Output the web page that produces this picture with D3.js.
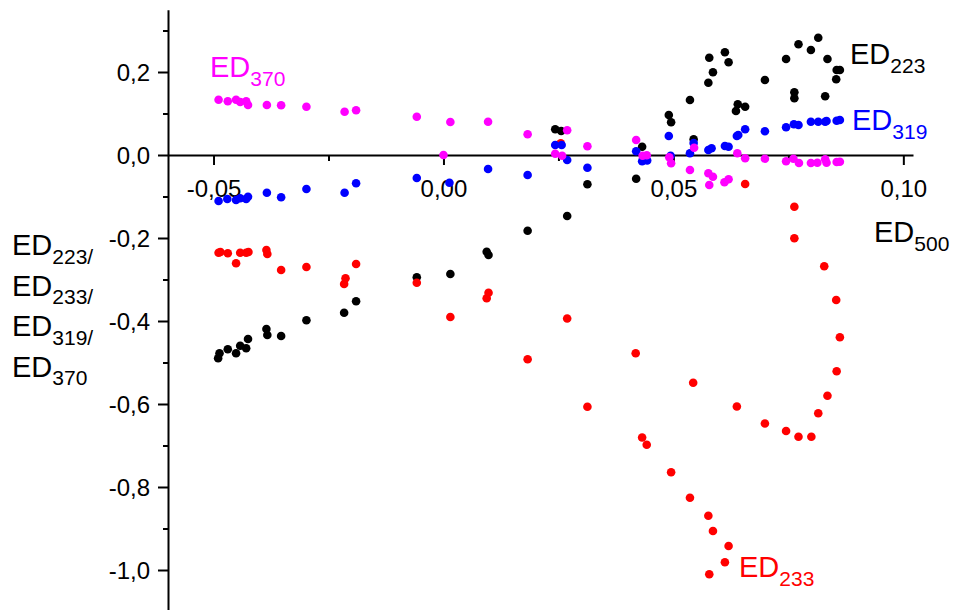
<!DOCTYPE html>
<html>
<head>
<meta charset="utf-8">
<script src="https://cdn.jsdelivr.net/npm/d3@7"></script>
<style>
  html, body { margin: 0; padding: 0; background: #fff; }
  svg { display: block; font-family: Arial, "Liberation Sans", sans-serif; }
</style>
</head>
<body>
<svg id="chart" width="955" height="610"></svg>
<script>
// ---- Data: [ED500, value] pairs ----
const ed370 = [
  [-0.0489,0.1333],[-0.0469,0.1294],[-0.0451,0.1333],[-0.0442,0.1277],[-0.0429,0.1294],
  [-0.0425,0.1205],[-0.0384,0.1205],[-0.0353,0.1198],[-0.0298,0.1164],[-0.0215,0.1043],
  [-0.0190,0.1077],[-0.0058,0.0923],[0.0000,0.0000],[0.0015,0.0795],[0.0097,0.0802],
  [0.0183,0.0499],[0.0243,0.0031],[0.0258,-0.0017],[0.0269,0.0595],[0.0313,0.0210],
  [0.0419,0.0361],[0.0433,-0.0017],[0.0442,-0.0007],[0.0491,-0.0055],[0.0495,-0.0200],
  [0.0536,-0.0361],[0.0545,0.0176],[0.0576,-0.0441],[0.0586,-0.0523],[0.0578,-0.0723],
  [0.0611,-0.0658],[0.0620,-0.0586],[0.0639,0.0041],[0.0656,-0.0080],[0.0699,-0.0089],
  [0.0745,-0.0152],[0.0761,-0.0089],[0.0773,-0.0193],[0.0799,-0.0193],[0.0813,-0.0186],
  [0.0830,-0.0104],[0.0833,-0.0186],[0.0855,-0.0169],[0.0862,-0.0161]
];
const ed319 = [
  [-0.0489,-0.1108],[-0.0470,-0.1060],[-0.0451,-0.1084],[-0.0442,-0.1043],[-0.0429,-0.1060],
  [-0.0425,-0.1005],[-0.0384,-0.0908],[-0.0353,-0.1019],[-0.0298,-0.0819],[-0.0215,-0.0908],
  [-0.0190,-0.0682],[-0.0058,-0.0554],[0.0013,-0.0667],[0.0097,-0.0337],[0.0183,-0.0482],
  [0.0243,0.0241],[0.0257,0.0241],[0.0269,-0.0120],[0.0313,-0.0306],[0.0419,0.0089],
  [0.0432,-0.0152],[0.0443,-0.0133],[0.0490,0.0458],[0.0494,-0.0019],[0.0536,0.0041],
  [0.0544,0.0289],[0.0576,0.0120],[0.0583,0.0161],[0.0612,0.0217],[0.0620,0.0200],
  [0.0638,0.0458],[0.0641,0.0482],[0.0656,0.0619],[0.0699,0.0571],[0.0745,0.0667],
  [0.0762,0.0740],[0.0772,0.0723],[0.0799,0.0802],[0.0815,0.0802],[0.0830,0.0802],
  [0.0833,0.0819],[0.0855,0.0827],[0.0862,0.0843]
];
const ed223 = [
  [-0.0490,-0.4899],[-0.0487,-0.4778],[-0.0469,-0.4682],[-0.0451,-0.4778],[-0.0442,-0.4595],
  [-0.0429,-0.4658],[-0.0425,-0.4434],[-0.0385,-0.4193],[-0.0383,-0.4337],[-0.0353,-0.4361],
  [-0.0298,-0.3983],[-0.0216,-0.3800],[-0.0190,-0.3525],[-0.0058,-0.2947],[0.0015,-0.2867],
  [0.0094,-0.2330],[0.0098,-0.2410],[0.0183,-0.1824],[0.0243,0.0619],[0.0256,0.0578],
  [0.0269,-0.1470],[0.0313,-0.0706],[0.0419,-0.0571],[0.0432,0.0200],[0.0490,0.0964],
  [0.0495,0.0788],[0.0536,0.1325],[0.0544,0.0381],[0.0576,0.1742],[0.0578,0.2345],
  [0.0586,0.1993],[0.0612,0.2475],[0.0620,0.2234],[0.0636,0.1060],[0.0640,0.1222],
  [0.0656,0.1164],[0.0699,0.1807],[0.0745,0.2313],[0.0763,0.1511],[0.0763,0.1366],
  [0.0772,0.2667],[0.0799,0.2530],[0.0815,0.2827],[0.0830,0.1414],[0.0835,0.2313],
  [0.0854,0.1824],[0.0855,0.2048],[0.0862,0.2048]
];
const ed233 = [
  [-0.0489,-0.2354],[-0.0485,-0.2337],[-0.0469,-0.2369],[-0.0451,-0.2610],[-0.0442,-0.2354],
  [-0.0429,-0.2354],[-0.0424,-0.2337],[-0.0385,-0.2289],[-0.0383,-0.2386],[-0.0353,-0.2771],
  [-0.0298,-0.2699],[-0.0216,-0.3108],[-0.0213,-0.2971],[-0.0190,-0.2627],[-0.0058,-0.3077],
  [0.0015,-0.3904],[0.0094,-0.3453],[0.0098,-0.3318],[0.0183,-0.4923],[0.0255,0.0284],
  [0.0269,-0.3940],[0.0313,-0.6065],[0.0418,-0.4776],[0.0432,-0.6807],[0.0442,-0.6981],
  [0.0495,-0.7646],[0.0536,-0.8258],[0.0543,-0.5487],[0.0576,-0.8692],[0.0578,-1.0104],
  [0.0586,-0.9060],[0.0612,-0.9814],[0.0620,-0.9422],[0.0638,-0.6060],[0.0656,-0.0699],
  [0.0699,-0.6470],[0.0745,-0.6651],[0.0763,-0.1246],[0.0763,-0.2007],[0.0772,-0.6790],
  [0.0800,-0.6788],[0.0815,-0.6224],[0.0828,-0.2682],[0.0835,-0.5800],[0.0854,-0.3494],
  [0.0855,-0.5210],[0.0862,-0.4390]
];

const xMajorTicks = [-0.05, 0.00, 0.05, 0.10];
const xMinorTicks = [-0.025, 0.025, 0.075];
const yMajorTicks = [-1.0, -0.8, -0.6, -0.4, -0.2, 0.0, 0.2];
const yMinorTicks = [-0.9, -0.7, -0.5, -0.3, -0.1, 0.1, 0.3];

const seriesOrder = [
  {name: "ED223", data: ed223, color: "#000000"},
  {name: "ED233", data: ed233, color: "#ff0000"},
  {name: "ED319", data: ed319, color: "#0000ff"},
  {name: "ED370", data: ed370, color: "#ff00ff"}
];

// ---- Scales ----
const svg = d3.select("#chart");
const x = d3.scaleLinear().domain([-0.0599, 0.1021]).range([168, 913]);
const y = d3.scaleLinear().domain([-1.1, 0.35]).range([611.5, 9.75]);

const fmtX = v => d3.format(".2f")(v).replace("−", "-").replace(".", ",");
const fmtY = v => d3.format(".1f")(v).replace("−", "-").replace(".", ",");

// ---- Axes ----
const y0 = y(0);
svg.append("g").attr("transform", `translate(0,${y0})`)
  .call(d3.axisBottom(x).tickValues(xMinorTicks).tickSize(6).tickSizeOuter(0).tickFormat(""))
  .call(g => g.select(".domain").remove())
  .call(g => g.selectAll("line").attr("stroke", "#000").attr("stroke-width", 2));
const gx = svg.append("g").attr("transform", `translate(0,${y0})`)
  .call(d3.axisBottom(x).tickValues(xMajorTicks).tickSize(10).tickSizeOuter(0).tickFormat(fmtX));
gx.select(".domain").attr("stroke", "#000").attr("stroke-width", 2);
gx.selectAll("line").attr("stroke", "#000").attr("stroke-width", 2);
gx.selectAll("text").attr("y", 42).attr("dy", 0).attr("font-size", 24)
  .attr("fill", "#000").attr("font-family", "Arial, 'Liberation Sans', sans-serif");

svg.append("g").attr("transform", `translate(168,0)`)
  .call(d3.axisLeft(y).tickValues(yMinorTicks).tickSize(5).tickSizeOuter(0).tickFormat(""))
  .call(g => g.select(".domain").remove())
  .call(g => g.selectAll("line").attr("stroke", "#000").attr("stroke-width", 2));
const gy = svg.append("g").attr("transform", `translate(168,0)`)
  .call(d3.axisLeft(y).tickValues(yMajorTicks).tickSize(10).tickSizeOuter(0).tickFormat(fmtY));
gy.select(".domain").attr("stroke", "#000").attr("stroke-width", 2);
gy.selectAll("line").attr("stroke", "#000").attr("stroke-width", 2);
gy.selectAll("text").attr("x", -18).attr("dy", "0.36em").attr("font-size", 24)
  .attr("fill", "#000").attr("font-family", "Arial, 'Liberation Sans', sans-serif");

// ---- Points ----
seriesOrder.forEach(s => {
  svg.append("g").selectAll("circle").data(s.data).join("circle")
    .attr("cx", d => x(d[0])).attr("cy", d => y(d[1]))
    .attr("r", 4.3).attr("fill", s.color);
});

// ---- Labels with subscripts ----
function subLabel(px, py, main, sub, color) {
  const t = svg.append("text").attr("x", px).attr("y", py)
    .attr("fill", color).attr("font-size", 29);
  t.append("tspan").text(main);
  t.append("tspan").attr("font-size", 21).attr("dy", 8.5).text(sub);
  return t;
}
subLabel(210, 77, "ED", "370", "#ff00ff");
subLabel(850, 64, "ED", "223", "#000000");
subLabel(852, 130, "ED", "319", "#0000ff");
subLabel(874, 242, "ED", "500", "#000000");
subLabel(739, 577, "ED", "233", "#ff0000");

// y-axis title (four stacked lines)
const yTitleLines = [["ED", "223/"], ["ED", "233/"], ["ED", "319/"], ["ED", "370"]];
yTitleLines.forEach((l, i) => subLabel(12, 255 + i * 40.5, l[0], l[1], "#000000"));
</script>
</body>
</html>
